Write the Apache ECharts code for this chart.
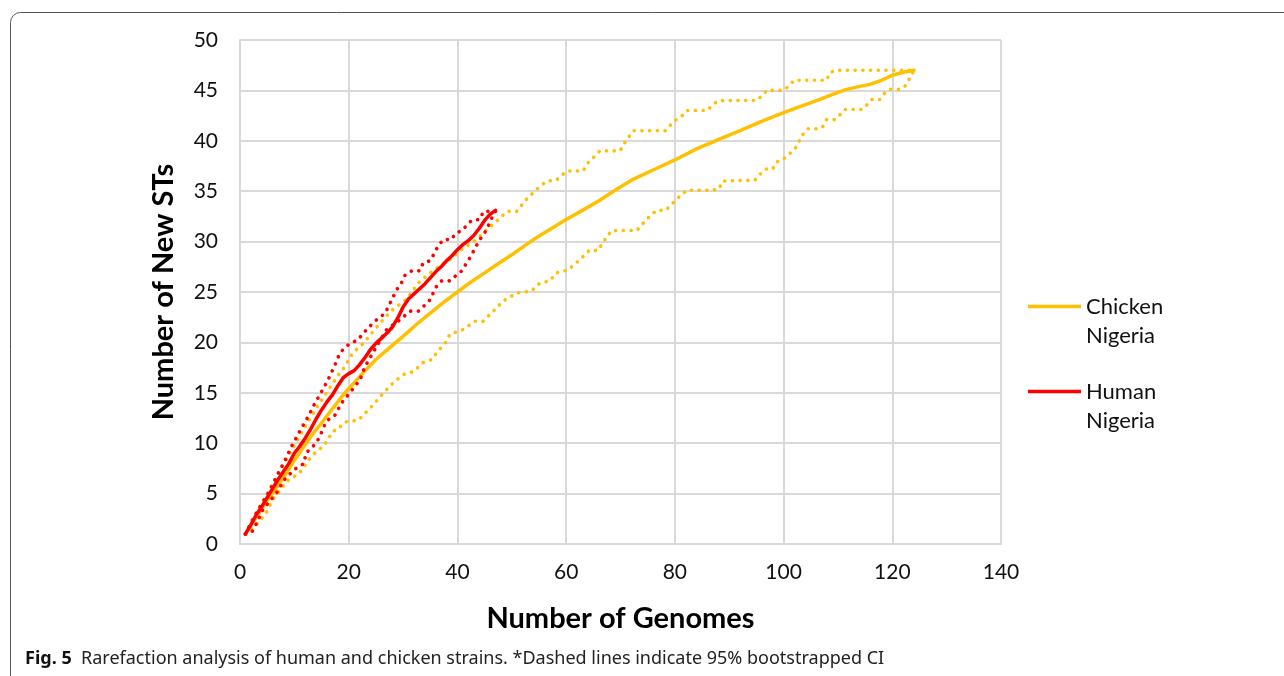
<!DOCTYPE html>
<html>
<head>
<meta charset="utf-8">
<title>Rarefaction analysis</title>
<script src="https://cdn.jsdelivr.net/npm/echarts@6/dist/echarts.min.js"></script>
<style>
  html, body { margin: 0; padding: 0; background: #fff; }
  #chart { width: 1284px; height: 676px; }
</style>
</head>
<body>
<div id="chart"></div>
<script>
const humanMeanX = [1, 2, 3, 4, 5, 6, 7, 8, 9, 10, 11, 12, 13, 14, 15, 16, 17, 18, 19, 20, 21, 22, 23, 24, 25, 26, 27, 28, 29, 30, 31, 32, 33, 34, 35, 36, 37, 38, 39, 40, 41, 42, 43, 44, 45, 46, 47]
const humanMean = [1, 1.9, 2.9, 3.7, 4.6, 5.5, 6.4, 7.2, 8.0, 9.0, 9.7, 10.5, 11.4, 12.4, 13.3, 14.1, 14.8, 15.7, 16.5, 16.9, 17.2, 17.8, 18.5, 19.3, 19.9, 20.4, 20.9, 21.5, 22.4, 23.5, 24.3, 24.8, 25.3, 25.8, 26.4, 27.0, 27.5, 28.1, 28.6, 29.2, 29.7, 30.1, 30.6, 31.3, 32.1, 32.7, 33.1]

const humanUpperX = [1, 2.6, 3.9, 5.4, 6.9, 8.2, 9.5, 11, 12.6, 13.8, 14.7, 16.2, 17.5, 18.4, 20.2, 21.6, 23, 24.8, 26.7, 28.8, 29.7, 30.4, 31.6, 33.1, 33.7, 35, 36.5, 37.4, 38.9, 39.6, 40.8, 42.6, 44.1, 44.8, 47]
const humanUpper = [1, 2.7, 3.9, 5.2, 6.9, 8.2, 9.7, 11.2, 12.7, 14, 14.8, 16.3, 17.8, 19, 19.9, 20.2, 21.1, 22.1, 22.9, 25.2, 25.9, 26.7, 27.1, 27.1, 27.9, 28.1, 29.6, 30.2, 30.2, 30.8, 31.1, 32.1, 32.2, 33, 33]

const humanLowerX = [1, 2.2, 2.9, 4.2, 5.4, 6.9, 8, 10, 11.8, 12.1, 14, 14.7, 15.9, 17.5, 18.7, 20.2, 22.1, 23, 24.8, 27, 29.1, 31.3, 32.8, 34.8, 36.2, 37.1, 38.6, 39.9, 40.8, 42.3, 43.8, 44.5, 45.4, 46, 47]
const humanLower = [1, 1.2, 1.9, 3.4, 4.2, 5.2, 6.3, 7.4, 8.0, 9.0, 10, 10.7, 12.2, 12.8, 14, 15, 16.3, 17.6, 19.3, 21.3, 22.1, 23.1, 23.1, 24.1, 25.6, 26.1, 26.1, 26.7, 27.1, 28.4, 29.9, 30.5, 31.2, 32, 33]

const chickenMeanX = [1, 4, 8.5, 10, 13.5, 15, 18.7, 20, 22.7, 25, 27.6, 30, 32.5, 35, 37.5, 40, 42.5, 45, 47.2, 50, 54, 57, 60, 63, 66.2, 69, 72.4, 76, 80, 84, 88.3, 92, 96.3, 100, 103.5, 106.7, 109, 111.6, 114, 115.9, 118, 120, 122, 124]
const chickenMean = [1, 3.5, 7.0, 8.3, 11.0, 12.0, 14.6, 15.4, 17.0, 18.3, 19.5, 20.6, 21.8, 22.9, 24.0, 25.0, 26.0, 26.9, 27.7, 28.7, 30.2, 31.2, 32.2, 33.1, 34.1, 35.1, 36.2, 37.1, 38.1, 39.2, 40.2, 41.0, 42.0, 42.8, 43.5, 44.1, 44.6, 45.1, 45.4, 45.6, 46.0, 46.5, 46.8, 47]

const chickenUpperX = [1, 5, 10, 13, 15.9, 18.4, 19.3, 20.8, 22.7, 24.5, 26.4, 28.2, 30.7, 32.8, 35, 36.8, 38.6, 41, 43.5, 45.4, 47.2, 49.1, 50.9, 52.7, 54.6, 56.4, 58.2, 60.1, 63.1, 64, 66.2, 69.9, 71, 72.4, 78.2, 80, 81.6, 82.2, 85.9, 87.7, 88.8, 95, 96.1, 96.9, 99.9, 101.2, 101.9, 107.9, 108.6, 109.8, 124]
const chickenUpper = [1, 5, 9.8, 12.6, 15, 17, 17.6, 19, 19.9, 21.1, 22.3, 23.3, 24.3, 25.9, 26.9, 27.6, 28.2, 29.3, 30.2, 31.2, 32, 33, 33, 34.2, 35.2, 36, 36.1, 37, 37, 37.8, 39, 39, 40, 41, 41, 42, 42.6, 43, 43, 43.9, 44, 44, 44.5, 45, 45, 45.5, 46, 46, 46.8, 47, 47]

const chickenLowerX = [1, 2.5, 4.8, 6, 7.2, 8.5, 10.9, 13.1, 15.5, 17.1, 17.8, 19.3, 21.8, 24.5, 26.4, 28.2, 30, 31.9, 33.7, 35.3, 36.2, 38, 38.6, 41.1, 43.2, 44.7, 46.6, 48.4, 50.9, 53.6, 55.2, 57, 58.2, 60.4, 62.5, 64.4, 65.8, 67.5, 68.4, 73, 74.8, 76.6, 78.3, 80.3, 82.2, 86.7, 88.1, 88.8, 94.7, 95.7, 96.8, 98, 98.7, 100, 102.1, 102.7, 103.5, 104.5, 106, 107.1, 107.9, 109.4, 110.4, 111.3, 114.4, 115.4, 116.2, 117.7, 118.7, 119.6, 121.4, 122.5, 123.3, 124]
const chickenLower = [1, 1.6, 3.05, 4.4, 5.2, 6.2, 7.0, 8.7, 9.8, 11.2, 11.3, 12.1, 12.3, 13.8, 15, 16, 16.8, 17.1, 18, 18.3, 19, 20.1, 20.8, 21.3, 22.1, 22.1, 23.1, 24.1, 24.9, 25.1, 25.9, 26.1, 26.9, 27.2, 28.2, 29.2, 29.1, 30.5, 31.1, 31.1, 32.2, 33.1, 33.1, 34.2, 35.1, 35.1, 35.2, 36, 36.1, 36.7, 37.2, 37.2, 37.9, 38.2, 39.2, 39.8, 40.6, 41.2, 41.2, 41.3, 42.1, 42.1, 42.6, 43.1, 43.1, 43.6, 44.1, 44.1, 44.8, 45.1, 45.1, 45.5, 46.3, 47]

const xTicks = [0, 20, 40, 60, 80, 100, 120, 140]
const yTicks = [0, 5, 10, 15, 20, 25, 30, 35, 40, 45, 50]

const ORANGE = '#FFC000'
const RED = '#FF0000'
const FONT = 'Lato'

const zip = (xs, ys) => xs.map((x, i) => [x, ys[i]])

const solid = (name, color, xs, ys) => ({
  name: name,
  type: 'line',
  data: zip(xs, ys),
  symbol: 'none',
  lineStyle: { color: color, width: 3.5, cap: 'round', join: 'round' },
  itemStyle: { color: color },
  silent: true
})

const dotted = (name, color, xs, ys) => ({
  name: name,
  type: 'line',
  data: zip(xs, ys),
  symbol: 'none',
  lineStyle: { color: color, width: 3.6, type: [0.1, 7.6], cap: 'round', join: 'round' },
  itemStyle: { color: color },
  silent: true
})

const chart = echarts.init(document.getElementById('chart'))

const option = {
  animation: false,
  backgroundColor: '#fff',
  textStyle: { fontFamily: FONT },
  title: {
    left: 25,
    top: 650,
    padding: 0,
    text: '{b|Fig. 5}  Rarefaction analysis of human and chicken strains. *Dashed lines indicate 95% bootstrapped CI',
    textStyle: {
      fontFamily: 'Noto Sans',
      fontSize: 18,
      fontWeight: 'normal',
      color: '#222',
      rich: {
        b: { fontFamily: 'Noto Sans', fontSize: 18, fontWeight: 'bold', color: '#111' }
      }
    }
  },
  graphic: [
    {
      type: 'rect',
      shape: { x: 10.5, y: 12.5, width: 1400, height: 800, r: 10 },
      style: { fill: 'none', stroke: '#555', lineWidth: 1 },
      silent: true
    }
  ],
  legend: {
    orient: 'vertical',
    left: 1028,
    top: 263,
    padding: 0,
    data: ['Chicken Nigeria', 'Human Nigeria'],
    icon: 'rect',
    itemWidth: 53,
    itemHeight: 3.5,
    itemGap: -2,
    // blank first line keeps the icon level with the first word
    formatter: name => '\n' + name.replace(' ', '\n'),
    textStyle: {
      fontFamily: FONT,
      fontSize: 22,
      lineHeight: 29,
      color: '#111'
    }
  },
  grid: { left: 240, right: 283, top: 40, bottom: 132 },
  xAxis: {
    type: 'value',
    min: xTicks[0],
    max: xTicks[xTicks.length - 1],
    interval: 20,
    name: 'Number of Genomes',
    nameLocation: 'middle',
    nameGap: 60,
    nameTextStyle: { fontFamily: FONT, fontSize: 29, fontWeight: 'bold', color: '#000' },
    axisLine: { lineStyle: { color: '#d9d9d9', width: 2 } },
    axisTick: { show: false },
    axisLabel: { fontFamily: FONT, fontSize: 21, color: '#111', margin: 18 },
    splitLine: { lineStyle: { color: '#d9d9d9', width: 2 } }
  },
  yAxis: {
    type: 'value',
    min: yTicks[0],
    max: yTicks[yTicks.length - 1],
    interval: 5,
    name: 'Number of New STs',
    nameLocation: 'middle',
    nameGap: 62,
    nameTextStyle: { fontFamily: FONT, fontSize: 29, fontWeight: 'bold', color: '#000' },
    axisLine: { show: true, lineStyle: { color: '#d9d9d9', width: 2 } },
    axisTick: { show: false },
    axisLabel: { fontFamily: FONT, fontSize: 21, color: '#111', margin: 22 },
    splitLine: { lineStyle: { color: '#d9d9d9', width: 2 } }
  },
  series: [
    dotted('Chicken upper CI', ORANGE, chickenUpperX, chickenUpper),
    dotted('Chicken lower CI', ORANGE, chickenLowerX, chickenLower),
    solid('Chicken Nigeria', ORANGE, chickenMeanX, chickenMean),
    dotted('Human upper CI', RED, humanUpperX, humanUpper),
    dotted('Human lower CI', RED, humanLowerX, humanLower),
    solid('Human Nigeria', RED, humanMeanX, humanMean)
  ]
}

chart.setOption(option)
</script>
</body>
</html>
